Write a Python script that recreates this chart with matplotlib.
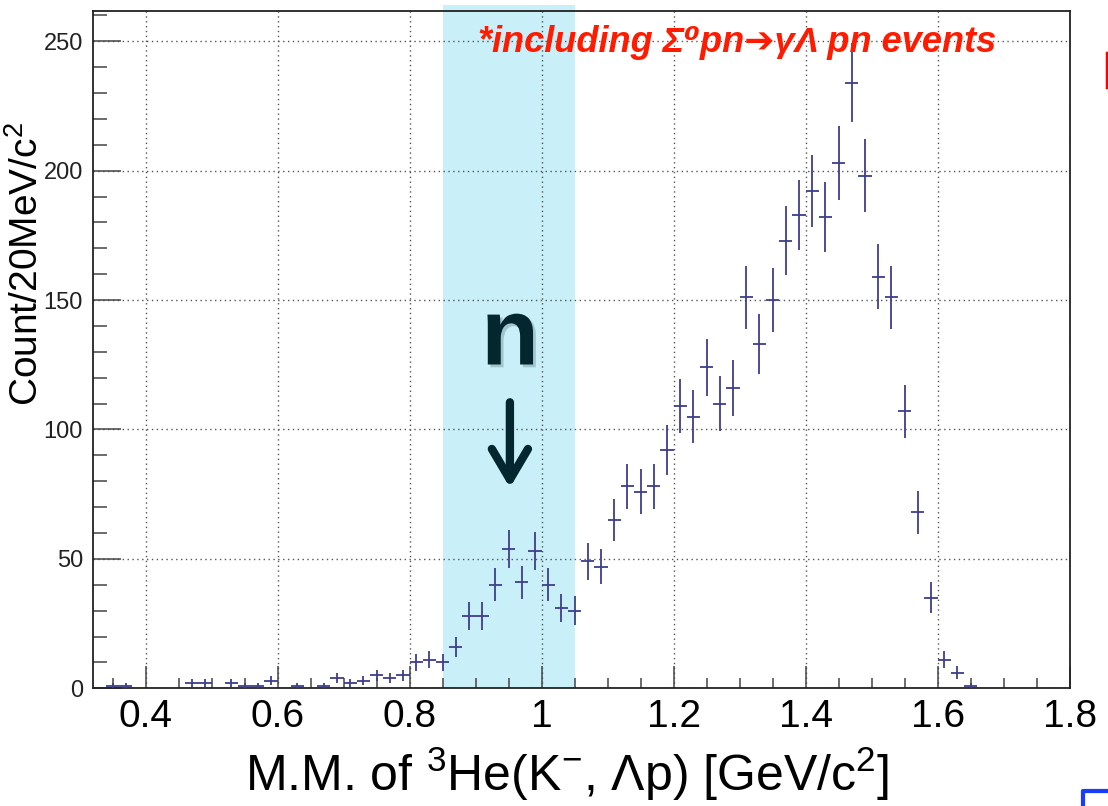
import numpy as np
import matplotlib
matplotlib.use("Agg")
import matplotlib.pyplot as plt
from matplotlib.lines import Line2D
from matplotlib.ticker import MultipleLocator
import matplotlib.patheffects as pe

plt.rcParams['font.family'] = ['Liberation Sans', 'DejaVu Sans']
plt.rcParams['mathtext.fontset'] = 'custom'
plt.rcParams['mathtext.rm'] = 'Liberation Sans'
plt.rcParams['mathtext.it'] = 'Liberation Sans:italic'
plt.rcParams['mathtext.bf'] = 'Liberation Sans:bold'

# Histograma: bines de 20 MeV desde 0.32 GeV
bin_lo = 0.32
bin_w = 0.02
counts = np.array([
    0, 1, 1, 0, 0, 0, 0, 2, 2, 0,          # 0.33 - 0.51
    2, 1, 1, 3, 0, 1, 0, 1, 4, 2,          # 0.53 - 0.71
    3, 5, 4, 5, 10, 11, 10, 16, 28, 28,    # 0.73 - 0.91
    40, 54, 41, 53, 40, 31, 30, 49, 47, 65,  # 0.93 - 1.11
    78, 76, 78, 92, 109, 105, 124, 110, 116, 151,  # 1.13 - 1.31
    133, 150, 173, 183, 192, 182, 203, 234, 198, 159,  # 1.33 - 1.51
    151, 107, 68, 35, 11, 6, 1, 0, 0, 0,   # 1.53 - 1.71
    0, 0, 0, 0,                             # 1.73 - 1.79
])
centers = bin_lo + bin_w * (np.arange(len(counts)) + 0.5)

# Ventana del neutrón
band_lo, band_hi = 0.85, 1.05

W, H = 1108, 806
fig = plt.figure(figsize=(W / 100, H / 100), dpi=100)
ax = fig.add_axes([92.7 / W, 1 - 688.3 / H, (1069.7 - 92.7) / W, (688.3 - 10.7) / H])

ax.axvspan(band_lo, band_hi, ymin=0, ymax=1.0084, color='#c9eff9',
           lw=0, zorder=0.5, clip_on=False)

m = counts > 0
ax.errorbar(centers[m], counts[m], xerr=bin_w / 2, yerr=np.sqrt(counts[m]),
            fmt='none', ecolor='#3e3e8e', elinewidth=1.3, capsize=0, zorder=3)

ax.set_xlim(0.32, 1.8)
ax.set_ylim(0, 261.8)
ax.xaxis.set_major_locator(MultipleLocator(0.2))
ax.xaxis.set_minor_locator(MultipleLocator(0.05))
ax.yaxis.set_major_locator(MultipleLocator(50))
ax.yaxis.set_minor_locator(MultipleLocator(10))
ax.set_xticks([0.4, 0.6, 0.8, 1.0, 1.2, 1.4, 1.6, 1.8])
ax.set_xticklabels(['0.4', '0.6', '0.8', '1', '1.2', '1.4', '1.6', '1.8'])

ax.grid(True, which='major', linestyle=(0, (1, 2.5)), color='#555555', lw=1.0)
ax.tick_params(axis='both', which='both', direction='in', color='#444444',
               top=False, right=False, width=1.1)
ax.tick_params(axis='y', which='major', length=20, labelsize=17, pad=7,
               labelcolor='#222222')
ax.tick_params(axis='y', which='minor', length=10)
ax.tick_params(axis='x', which='major', length=16, labelsize=28, pad=8)
ax.tick_params(axis='x', which='minor', length=7)
for s in ax.spines.values():
    s.set_linewidth(1.3)
    s.set_color('#222222')

fig.text(567 / W, 1 - 774 / H, r'M.M. of $^{3}$He(K$^{-}$, $\Lambda$p) [GeV/c$^{2}$]',
         fontsize=36, ha='center', va='center')
fig.text(27 / W, 1 - 264 / H, r'Count/20MeV/c$^{2}$', fontsize=28,
         rotation=90, ha='center', va='center')

fig.text(478 / W, 1 - 42 / H, '*including Σ⁰pn➔γΛ pn events', color='#ff1a00',
         fontsize=26, fontweight='bold', fontstyle='italic', ha='left', va='center',
         family=['Liberation Sans', 'DejaVu Sans'])

# Etiqueta "n" con flecha
fig.text(510 / W, 1 - 340 / H, 'n', fontsize=68, fontweight='bold', color='#04262f',
         ha='center', va='center',
         path_effects=[pe.withSimplePatchShadow(offset=(2, -2), shadow_rgbFace='#7a9aa3', alpha=0.5)])
ax.annotate('', xy=(0.952, 77.5), xytext=(0.952, 110.5),
            arrowprops=dict(arrowstyle='->,head_length=1.1,head_width=0.65',
                            lw=6, color='#04262f', shrinkA=0, shrinkB=0,
                            mutation_scale=20, capstyle='round', joinstyle='round'),
            zorder=4)

# restos de la diapositiva
fig.add_artist(Line2D([1106.5 / W, 1106.5 / W], [1 - 53 / H, 1 - 87 / H],
                      color='#ff0000', lw=2.5))
fig.add_artist(Line2D([1083 / W, 1083 / W, 1.0], [0, 1 - 791 / H, 1 - 791 / H],
                      color='#1a3cff', lw=3))

fig.savefig('out.png', dpi=100)
